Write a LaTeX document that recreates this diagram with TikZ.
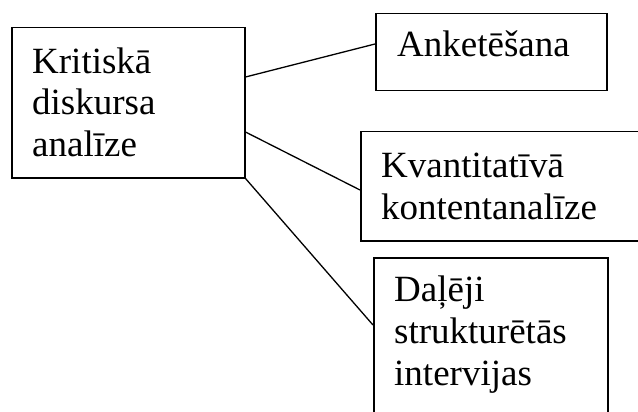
\documentclass[tikz,border=0pt]{standalone}
\usepackage{fontspec}
\setmainfont{Liberation Serif}
\usetikzlibrary{calc}
\tikzset{
  box/.style={draw, line width=1.5pt, rectangle, inner sep=0pt, anchor=north west},
  label/.style={anchor=base west, align=left, inner sep=0pt, font=\rmfamily\fontsize{37}{42}\selectfont},
  link/.style={line width=1.3pt}
}
\begin{document}
\begin{tikzpicture}[x=1pt,y=-1pt]
\useasboundingbox (0,0) rectangle (638,412);
\clip (0,0) rectangle (638,412);
\node[box, minimum width=233pt, minimum height=150pt] (k) at (11,27) {};
\node[box, minimum width=231pt, minimum height=77pt] (a) at (375,13) {};
\node[box, minimum width=290pt, minimum height=109pt] (q) at (360,131) {};
\node[box, minimum width=234pt, minimum height=173pt] (d) at (373,257) {};
\node[label] (kt) at (32,157) {Kritiskā\\diskursa\\analīze};
\node[label] (at) at (397,57) {Anketēšana};
\node[label] (qt) at (381,219) {Kvantitatīvā\\kontentanalīze};
\node[label] (dt) at (394,385) {Daļēji\\strukturētās\\intervijas};
\draw[link] ($(k.north east)+(0,50)$) -- ($(a.north west)+(0,31)$);
\draw[link] ($(k.north east)+(0,105)$) -- ($(q.north west)+(0,59)$);
\draw[link] (k.south east) -- ($(d.north west)+(0,68)$);
\end{tikzpicture}
\end{document}
